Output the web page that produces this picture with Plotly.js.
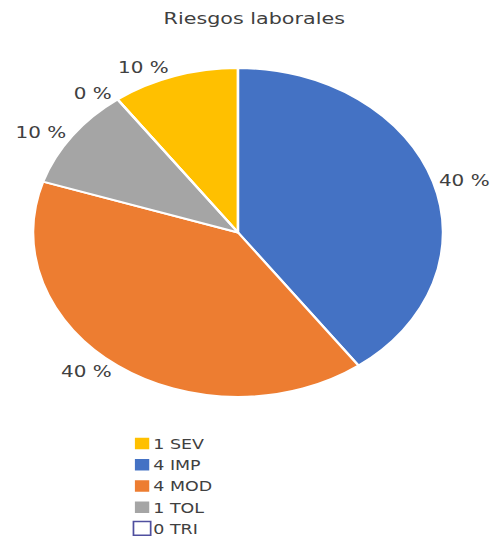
<!DOCTYPE html>
<html>
<head>
<meta charset="utf-8">
<script src="https://cdn.plot.ly/plotly-3.0.1.min.js"></script>
<style>
  html, body { margin: 0; padding: 0; background: #ffffff; overflow: hidden; }
  #wrap { width: 496px; height: 537px; overflow: hidden; }
  #chart { width: 398px; height: 537px; transform: scaleX(1.2462); transform-origin: 0 0; }
</style>
</head>
<body>
<div id="wrap"><div id="chart"></div></div>
<script>
// Data
const categories = ['SEV', 'IMP', 'MOD', 'TOL', 'TRI'];
const counts = [1, 4, 4, 1, 0];
const sliceColors = ['#FFC000', '#4472C4', '#ED7D31', '#A5A5A5', '#FFFFFF'];
const chartTitle = 'Riesgos laborales';

const total = counts.reduce((a, b) => a + b, 0);
const legendLabels = categories.map((c, i) => counts[i] + ' ' + c);
const pctText = counts.map(v => Math.round(v / total * 100) + ' %');

const W = 398, H = 537;
const cx = 191, cy = 232.5, r = 164.5;

const trace = {
  type: 'pie',
  labels: legendLabels,
  values: counts,
  text: pctText,
  textinfo: 'text',
  textposition: 'outside',
  sort: false,
  direction: 'clockwise',
  rotation: -36,
  hoverinfo: 'label+percent',
  marker: {
    colors: sliceColors,
    line: { color: ['#FFFFFF', '#FFFFFF', '#FFFFFF', '#FFFFFF', '#4F4F9F'], width: [2, 2, 2, 2, 1.2] }
  },
  outsidetextfont: { family: 'DejaVu Sans, Verdana, sans-serif', size: 16, color: '#404040' },
  domain: {
    x: [(cx - r) / W, (cx + r) / W],
    y: [(H - cy - r) / H, (H - cy + r) / H]
  },
  automargin: false
};

const layout = {
  width: W,
  height: H,
  margin: { l: 0, r: 0, t: 0, b: 0, autoexpand: false },
  paper_bgcolor: '#ffffff',
  plot_bgcolor: '#ffffff',
  font: { family: 'DejaVu Sans, Verdana, sans-serif', color: '#404040' },
  title: {
    text: chartTitle,
    x: 204 / W,
    xanchor: 'center',
    y: 1 - 18 / H,
    yanchor: 'middle',
    xref: 'paper',
    yref: 'container',
    font: { family: 'DejaVu Sans, Verdana, sans-serif', size: 16.6, color: '#404040' }
  },
  showlegend: true,
  legend: {
    x: 94 / W,
    xanchor: 'left',
    y: 1 - 428 / H,
    yanchor: 'top',
    orientation: 'v',
    traceorder: 'normal',
    font: { family: 'DejaVu Sans, Verdana, sans-serif', size: 14, color: '#404040' },
    bgcolor: 'rgba(0,0,0,0)',
    borderwidth: 0,
    itemclick: false,
    itemdoubleclick: false
  }
};

Plotly.newPlot('chart', [trace], layout, { staticPlot: true, displayModeBar: false }).then(function (gd) {
  // hide the outline of the zero-value slice inside the pie (keep it in the legend)
  const slices = gd.querySelectorAll('.pielayer .slice path.surface');
  counts.forEach(function (v, i) {
    if (v === 0 && slices[i]) { slices[i].style.stroke = '#FFFFFF'; slices[i].style.strokeWidth = '2px'; }
  });
  // pull legend labels closer to their swatches, as in the reference
  gd.querySelectorAll('.legend .legendtext').forEach(function (t) { t.setAttribute('x', '29'); });
  gd.querySelectorAll('.legend .legendpoints path').forEach(function (p) {
    p.setAttribute('transform', 'translate(20,0) scale(1.15)');
  });
});
</script>
</body>
</html>
